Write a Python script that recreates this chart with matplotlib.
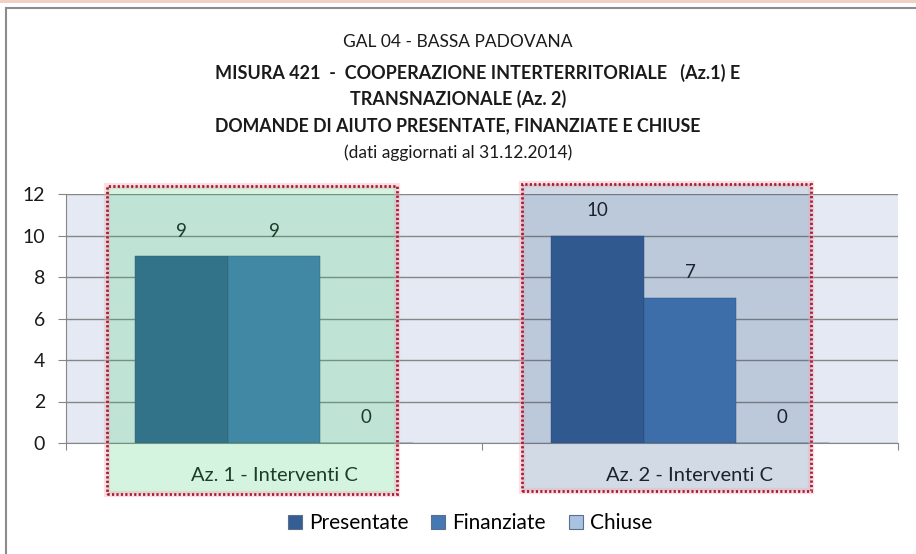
import matplotlib
matplotlib.use('Agg')
import matplotlib.pyplot as plt
import numpy as np
from matplotlib.patches import Rectangle
from matplotlib.lines import Line2D

plt.rcParams['font.family'] = ['Lato', 'DejaVu Sans']

categorie = ['Az. 1 - Interventi C', 'Az. 2 - Interventi C']
serie = ['Presentate', 'Finanziate', 'Chiuse']
presentate = [9, 10]
finanziate = [9, 7]
chiuse = [0, 0]
colori = ['#345e94', '#4678b4', '#a8c2e2']

titolo = ['GAL 04 - BASSA PADOVANA',
          'MISURA 421  -  COOPERAZIONE INTERTERRITORIALE   (Az.1) E',
          'TRANSNAZIONALE (Az. 2)',
          'DOMANDE DI AIUTO PRESENTATE, FINANZIATE E CHIUSE',
          '(dati aggiornati al 31.12.2014)']

W, H = 916, 554
fig = plt.figure(figsize=(W / 100, H / 100), dpi=100)
fig.patch.set_facecolor('white')

# cornice esterna
fig.add_artist(Rectangle((0, 1 - 3 / H), 1, 3 / H, transform=fig.transFigure,
                         facecolor='#f2cfc3', edgecolor='none'))
fig.add_artist(Line2D([6 / W, 1], [1 - 8 / H, 1 - 8 / H], transform=fig.transFigure,
                      color='#8c8c8c', lw=1.5))
fig.add_artist(Line2D([6 / W, 6 / W], [0, 1 - 8 / H], transform=fig.transFigure,
                      color='#8c8c8c', lw=1.5))

# titolo
ys = [42, 73, 99, 126, 153]
xs = [458, 478, 458, 458, 458]
sizes = [12.5, 13, 13, 12.8, 12.5]
weights = ['normal', 'bold', 'bold', 'bold', 'normal']
for t, xx, y, s, w in zip(titolo, xs, ys, sizes, weights):
    fig.text(xx / W, 1 - y / H, t, ha='center', va='center', fontsize=s,
             fontweight=w, color='#1a1a1a')

ax = fig.add_axes([66 / W, 1 - 443 / H, (898 - 66) / W, (443 - 194) / H])
ax.set_facecolor('#e4e9f3')

x = np.arange(len(categorie))
w = 0.222
valori = [presentate, finanziate, chiuse]
for i, (nome, v, c) in enumerate(zip(serie, valori, colori)):
    b = ax.bar(x + (i - 1) * w, v, w, color=c, label=nome, zorder=3,
               edgecolor='#2a4a75', linewidth=0.3)
    ax.bar_label(b, padding=12, fontsize=13.5, color='#1a1a1a')

ax.set_xlim(-0.5, 1.5)
ax.set_ylim(0, 12)
ax.set_yticks(range(0, 13, 2))
ax.yaxis.grid(True, color='#868686', lw=1, zorder=1)
ax.set_axisbelow(True)
ax.set_xticks([-0.5, 0.5, 1.5])
ax.set_xticklabels([])
ax.set_xticks(x, minor=True)
ax.set_xticklabels(categorie, minor=True, fontsize=14.5, color='#1a1a1a')
ax.tick_params(axis='x', which='minor', length=0, pad=17)
ax.tick_params(axis='x', which='major', length=5, color='#868686')
ax.tick_params(axis='y', length=6, color='#868686', labelsize=14, pad=9,
               labelcolor='#1a1a1a')
for s in ['top', 'right']:
    ax.spines[s].set_visible(False)
for s in ['left', 'bottom']:
    ax.spines[s].set_color('#868686')

# riquadri evidenziati
riquadri = [((-0.401, -2.46), 0.697, 14.85, '#2bcb61'),
            ((0.596, -2.31), 0.695, 14.79, '#1f497d')]
for (x0, y0), ww, hh, fc in riquadri:
    ax.add_patch(Rectangle((x0, y0), ww, hh, facecolor=fc, alpha=0.2,
                           edgecolor='none', zorder=4, clip_on=False))
    ax.add_patch(Rectangle((x0, y0), ww, hh, facecolor='none', edgecolor='#f4a6b4',
                           lw=4.5, alpha=0.35, zorder=5, clip_on=False))
    ax.add_patch(Rectangle((x0, y0), ww, hh, facecolor='none', edgecolor='#a81c34',
                           lw=2, linestyle=(0, (0.8, 0.8)), zorder=6, clip_on=False))

leg = fig.legend(loc='center', bbox_to_anchor=(470 / W, 1 - 523 / H), ncol=3,
                 frameon=False, fontsize=15, handlelength=0.67, handleheight=0.67,
                 handletextpad=0.35, columnspacing=1.1)
for h in leg.legend_handles:
    h.set_edgecolor('#5a6f8c')
    h.set_linewidth(0.8)

fig.savefig('out.png', dpi=100)
